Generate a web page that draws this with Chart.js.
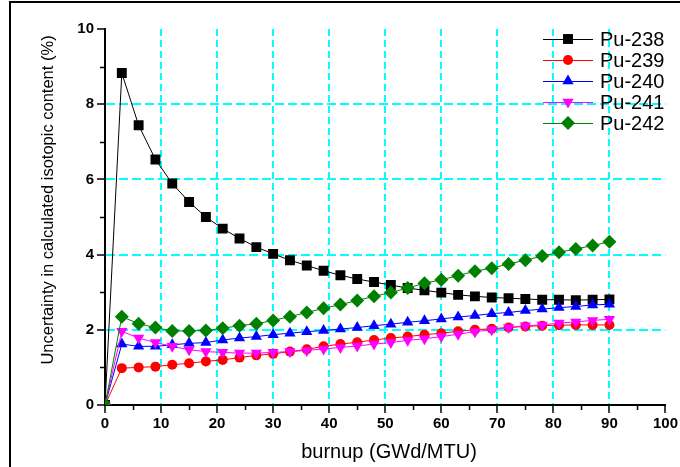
<!DOCTYPE html>
<html>
<head>
<meta charset="utf-8">
<script src="https://cdn.jsdelivr.net/npm/chart.js@4/dist/chart.umd.min.js"></script>
<style>
    html, body { margin: 0; padding: 0; background: #ffffff; }
    #wrap { width: 680px; height: 467px; position: relative; }
</style>
</head>
<body>
<div id="wrap"><canvas id="puChart"></canvas></div>
<script>
// burnup steps (GWd/MTU)
const burnup = [0, 3, 6, 9, 12, 15, 18, 21, 24, 27, 30, 33, 36, 39, 42, 45, 48, 51, 54, 57, 60, 63, 66, 69, 72, 75, 78, 81, 84, 87, 90];

// uncertainty (%) per isotope
const pu238 = [0, 8.83, 7.44, 6.53, 5.89, 5.40, 5.00, 4.69, 4.43, 4.20, 4.02, 3.85, 3.71, 3.57, 3.45, 3.35, 3.27, 3.19, 3.11, 3.05, 2.99, 2.93, 2.89, 2.86, 2.84, 2.82, 2.80, 2.80, 2.79, 2.80, 2.81];
const pu239 = [0, 0.98, 1.00, 1.02, 1.07, 1.11, 1.16, 1.20, 1.26, 1.32, 1.36, 1.42, 1.48, 1.56, 1.62, 1.67, 1.73, 1.78, 1.82, 1.87, 1.91, 1.96, 2.00, 2.03, 2.06, 2.09, 2.11, 2.12, 2.13, 2.13, 2.13];
const pu240 = [0, 1.62, 1.56, 1.56, 1.60, 1.64, 1.66, 1.73, 1.78, 1.82, 1.87, 1.91, 1.95, 1.98, 2.02, 2.06, 2.11, 2.15, 2.20, 2.24, 2.29, 2.34, 2.38, 2.43, 2.46, 2.51, 2.55, 2.59, 2.62, 2.66, 2.68];
const pu241 = [0, 1.96, 1.78, 1.66, 1.56, 1.47, 1.42, 1.40, 1.38, 1.38, 1.40, 1.42, 1.45, 1.49, 1.53, 1.57, 1.62, 1.66, 1.72, 1.76, 1.82, 1.88, 1.95, 2.00, 2.06, 2.11, 2.13, 2.18, 2.21, 2.25, 2.28];
const pu242 = [0, 2.35, 2.16, 2.06, 1.97, 1.97, 1.98, 2.04, 2.11, 2.16, 2.25, 2.35, 2.46, 2.57, 2.67, 2.78, 2.89, 2.99, 3.11, 3.24, 3.33, 3.44, 3.56, 3.64, 3.75, 3.85, 3.96, 4.06, 4.15, 4.24, 4.34];

const seriesNames = ['Pu-238', 'Pu-239', 'Pu-240', 'Pu-241', 'Pu-242'];
const seriesValues = [pu238, pu239, pu240, pu241, pu242];

const xTitle = 'burnup (GWd/MTU)';
const yTitle = 'Uncertainty in calculated isotopic content (%)';

const styles = [
    { color: '#000000', pointStyle: 'rect', radius: 7, rotation: 0 },
    { color: '#ff0000', pointStyle: 'circle', radius: 5, rotation: 0 },
    { color: '#0000ff', pointStyle: 'triangle', radius: 6.5, rotation: 0 },
    { color: '#ff00ff', pointStyle: 'triangle', radius: 6.5, rotation: 180 },
    { color: '#008000', pointStyle: 'rectRot', radius: 7, rotation: 0 }
];

const GRID = '#00ffff';
const FONT = "'Liberation Sans', Arial, sans-serif";

const datasets = seriesNames.map((name, i) => ({
    label: name,
    data: burnup.map((b, j) => ({ x: b, y: seriesValues[i][j] })),
    borderColor: styles[i].color,
    backgroundColor: styles[i].color,
    borderWidth: 1,
    pointStyle: styles[i].pointStyle,
    pointRadius: styles[i].radius,
    pointRotation: styles[i].rotation,
    pointBorderWidth: 0,
    pointHoverRadius: styles[i].radius,
    tension: 0,
    clip: 0,
    order: seriesNames.length - i   // later series on top, as in the original
}));

/**
 * Moldura, ticks menores, títulos dos eixos e legenda
 */
const decorPlugin = {
    id: 'decor',
    beforeDraw(chart) {
        const ctx = chart.ctx;
        ctx.save();
        ctx.fillStyle = '#ffffff';
        ctx.fillRect(0, 0, chart.width, chart.height);
        ctx.strokeStyle = '#000000';
        ctx.lineWidth = 2;
        ctx.beginPath();
        ctx.moveTo(10, chart.height);
        ctx.lineTo(10, 2);
        ctx.lineTo(chart.width, 2);
        ctx.stroke();
        ctx.restore();
    },
    afterDraw(chart) {
        const ctx = chart.ctx;
        const xs = chart.scales.x, ys = chart.scales.y;
        const area = chart.chartArea;
        ctx.save();

        // minor ticks
        ctx.strokeStyle = '#000000';
        ctx.lineWidth = 1.5;
        ctx.beginPath();
        for (let v = 5; v < 100; v += 10) {
            const px = Math.round(xs.getPixelForValue(v)) + 0.5;
            ctx.moveTo(px, area.bottom);
            ctx.lineTo(px, area.bottom + 5);
        }
        for (let v = 1; v < 10; v += 2) {
            const py = Math.round(ys.getPixelForValue(v)) + 0.5;
            ctx.moveTo(area.left, py);
            ctx.lineTo(area.left - 5, py);
        }
        ctx.stroke();

        // axis titles
        ctx.fillStyle = '#000000';
        ctx.font = '20px ' + FONT;
        ctx.textAlign = 'center';
        ctx.textBaseline = 'alphabetic';
        ctx.fillText(xTitle, 389, 458);

        ctx.save();
        ctx.translate(53, 200);
        ctx.rotate(-Math.PI / 2);
        ctx.font = '16.5px ' + FONT;
        ctx.fillText(yTitle, 0, 0);
        ctx.restore();

        // legend
        ctx.font = '20px ' + FONT;
        ctx.textAlign = 'left';
        ctx.textBaseline = 'middle';
        seriesNames.forEach((name, i) => {
            const y = 39 + i * 21;
            const st = styles[i];
            ctx.strokeStyle = st.color;
            ctx.lineWidth = 1;
            ctx.beginPath();
            ctx.moveTo(543, y + 0.5);
            ctx.lineTo(593, y + 0.5);
            ctx.stroke();
            ctx.fillStyle = st.color;
            Chart.helpers.drawPoint(ctx, {
                pointStyle: st.pointStyle,
                radius: st.radius,
                rotation: st.rotation,
                borderWidth: 0
            }, 568, y);
            ctx.fillStyle = '#000000';
            ctx.fillText(name, 600, y + 1);
        });

        ctx.restore();
    }
};

const tickFont = { family: FONT, size: 15, weight: 'bold' };

new Chart(document.getElementById('puChart'), {
    type: 'line',
    data: { datasets: datasets },
    options: {
        responsive: true,
        maintainAspectRatio: false,
        animation: false,
        events: [],
        layout: { padding: { top: 29, right: 14, bottom: 0, left: 0 } },
        plugins: {
            legend: { display: false },
            tooltip: { enabled: false }
        },
        scales: {
            x: {
                type: 'linear',
                min: 0,
                max: 100,
                afterFit: (scale) => { scale.height = 62; },
                ticks: { stepSize: 10, color: '#000000', font: tickFont, padding: 2, maxRotation: 0 },
                grid: {
                    color: (c) => (c.tick && (c.tick.value === 0 || c.tick.value === 100)) ? 'rgba(0,0,0,0)' : GRID,
                    lineWidth: 2,
                    tickColor: '#000000',
                    tickWidth: 1.5,
                    tickLength: 8
                },
                border: { display: true, color: '#000000', width: 2, dash: [7, 4] }
            },
            y: {
                type: 'linear',
                min: 0,
                max: 10,
                afterFit: (scale) => { scale.width = 105; },
                ticks: { stepSize: 2, color: '#000000', font: tickFont, padding: 3 },
                grid: {
                    color: (c) => (c.tick && (c.tick.value === 0 || c.tick.value === 10)) ? 'rgba(0,0,0,0)' : GRID,
                    lineWidth: 2,
                    tickColor: '#000000',
                    tickWidth: 1.5,
                    tickLength: 8
                },
                border: { display: true, color: '#000000', width: 2, dash: [9, 4] }
            }
        }
    },
    plugins: [decorPlugin]
});
</script>
</body>
</html>
